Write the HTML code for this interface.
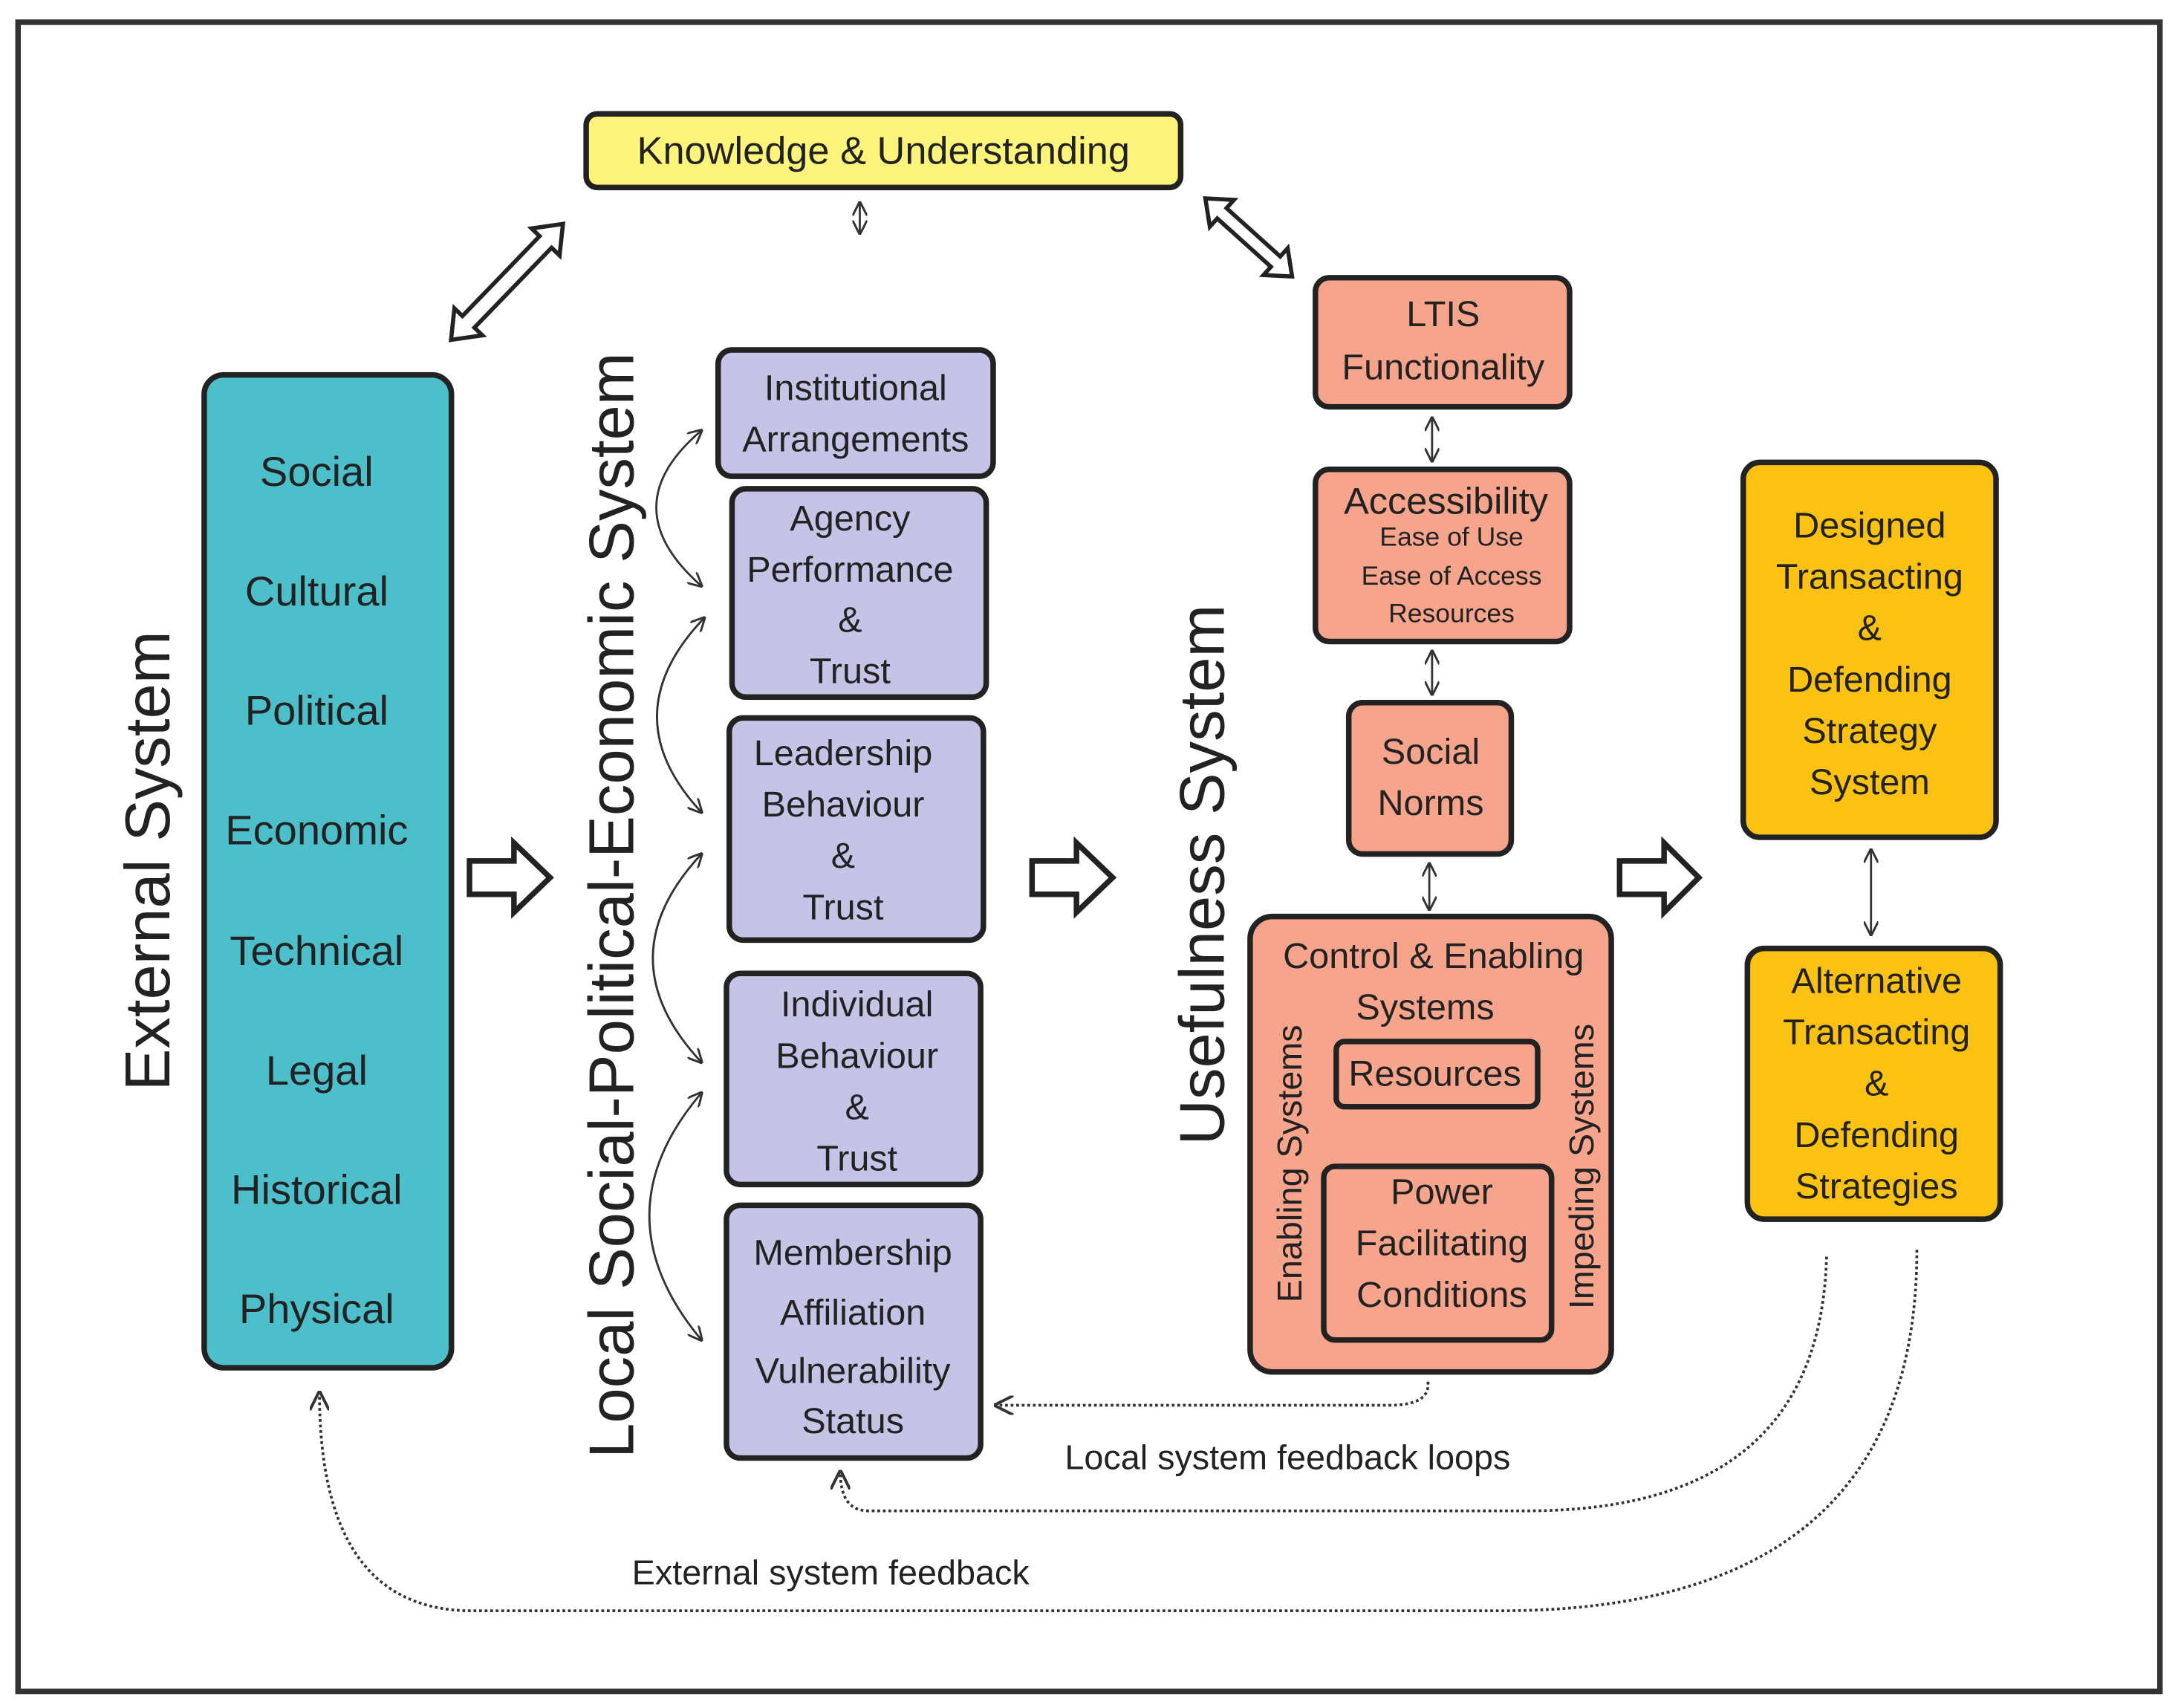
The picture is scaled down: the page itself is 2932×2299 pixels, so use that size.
<!DOCTYPE html>
<html><head><meta charset="utf-8"><style>
html,body{margin:0;padding:0;background:#fff;}
svg{display:block;}
text{font-family:"Comic Sans MS","Liberation Sans",sans-serif;fill:#222;text-anchor:middle;}
</style></head><body>
<svg width="2932" height="2299" viewBox="0 0 1568 1230" preserveAspectRatio="none" xmlns="http://www.w3.org/2000/svg">
<defs>
<marker id="ah" viewBox="0 0 10 10" refX="9" refY="5" markerWidth="7" markerHeight="7" orient="auto-start-reverse"><path d="M0,0 L10,5 L0,10" fill="none" stroke="#333" stroke-width="1.5"/></marker>
</defs>
<rect x="13" y="16" width="1542" height="1202" fill="#fff" stroke="#333" stroke-width="4"/>

<rect x="422" y="82" width="428" height="53" rx="8" fill="#fdf47c" stroke="#222" stroke-width="4"/>
<text x="636" y="118" font-size="28">Knowledge &amp; Understanding</text>
<line x1="619" y1="146" x2="619" y2="168" stroke="#333" stroke-width="1.5" marker-start="url(#ah)" marker-end="url(#ah)"/>

<g transform="translate(365,203) rotate(-46)" fill="#fff" stroke="#222" stroke-width="3">
<path d="M-58,0 L-40,-14 L-40,-6 L40,-6 L40,-14 L58,0 L40,14 L40,6 L-40,6 L-40,14 Z"/>
</g>
<g transform="translate(899,171) rotate(42)" fill="#fff" stroke="#222" stroke-width="3">
<path d="M-42,0 L-26,-13 L-26,-5 L26,-5 L26,-13 L42,0 L26,13 L26,5 L-26,5 L-26,13 Z"/>
</g>

<rect x="147" y="270" width="178" height="715" rx="14" fill="#4cbfcb" stroke="#222" stroke-width="4"/>
<g font-size="30">
<text x="228" y="350">Social</text><text x="228" y="436">Cultural</text><text x="228" y="522">Political</text><text x="228" y="608">Economic</text><text x="228" y="695">Technical</text><text x="228" y="781">Legal</text><text x="228" y="867">Historical</text><text x="228" y="953">Physical</text>
</g>
<text transform="translate(122,620) rotate(-90)" font-size="45.5">External System</text>

<path d="M338,620 L370,620 L370,607 L396,632 L370,657 L370,644 L338,644 Z" fill="#fff" stroke="#222" stroke-width="4"/>
<path d="M743,620 L775,620 L775,607 L801,632 L775,657 L775,644 L743,644 Z" fill="#fff" stroke="#222" stroke-width="4"/>
<path d="M1166,620 L1198,620 L1198,607 L1223,632 L1198,657 L1198,644 L1166,644 Z" fill="#fff" stroke="#222" stroke-width="4"/>

<text transform="translate(456,652) rotate(-90)" font-size="45.5">Local Social-Political-Economic System</text>

<g fill="#c6c4e6" stroke="#222" stroke-width="4">
<rect x="517" y="252" width="198" height="91" rx="10"/>
<rect x="527" y="352" width="183" height="150" rx="10"/>
<rect x="525" y="517" width="183" height="160" rx="10"/>
<rect x="523" y="701" width="183" height="152" rx="10"/>
<rect x="523" y="868" width="183" height="182" rx="10"/>
</g>
<g font-size="26">
<text x="616" y="288">Institutional</text><text x="616" y="325">Arrangements</text>
<text x="612" y="382">Agency</text><text x="612" y="419">Performance</text><text x="612" y="455">&amp;</text><text x="612" y="492">Trust</text>
<text x="607" y="551">Leadership</text><text x="607" y="588">Behaviour</text><text x="607" y="625">&amp;</text><text x="607" y="662">Trust</text>
<text x="617" y="732">Individual</text><text x="617" y="769">Behaviour</text><text x="617" y="806">&amp;</text><text x="617" y="843">Trust</text>
<text x="614" y="911">Membership</text><text x="614" y="954">Affiliation</text><text x="614" y="996">Vulnerability</text><text x="614" y="1032">Status</text>
</g>
<g fill="none" stroke="#333" stroke-width="1.5" marker-start="url(#ah)" marker-end="url(#ah)">
<path d="M505,310 Q440,365 505,422"/>
<path d="M507,445 Q440,515 505,585"/>
<path d="M505,615 Q435,690 505,765"/>
<path d="M505,787 Q430,875 505,965"/>
</g>

<text transform="translate(881,630) rotate(-90)" font-size="45.5">Usefulness System</text>

<g fill="#f6a58c" stroke="#222" stroke-width="4">
<rect x="947" y="200" width="183" height="93" rx="10"/>
<rect x="947" y="338" width="183" height="124" rx="10"/>
<rect x="971" y="506" width="117" height="109" rx="10"/>
<rect x="900" y="660" width="260" height="328" rx="16"/>
<rect x="962" y="750" width="145" height="47" rx="6"/>
<rect x="953" y="840" width="164" height="125" rx="8"/>
</g>
<g font-size="26">
<text x="1039" y="235">LTIS</text><text x="1039" y="273">Functionality</text>
<text x="1041" y="370" font-size="27">Accessibility</text>
<text x="1045" y="393" font-size="19">Ease of Use</text><text x="1045" y="421" font-size="19">Ease of Access</text><text x="1045" y="448" font-size="19">Resources</text>
<text x="1030" y="550">Social</text><text x="1030" y="587">Norms</text>
<text x="1032" y="697">Control &amp; Enabling</text><text x="1026" y="734">Systems</text>
<text x="1033" y="782">Resources</text>
<text x="1038" y="867">Power</text><text x="1038" y="904">Facilitating</text><text x="1038" y="941">Conditions</text>
<text transform="translate(937,838) rotate(-90)" font-size="25">Enabling Systems</text>
<text transform="translate(1147,840) rotate(-90)" font-size="25">Impeding Systems</text>
</g>
<g stroke="#333" stroke-width="1.5" marker-start="url(#ah)" marker-end="url(#ah)">
<line x1="1031" y1="301" x2="1031" y2="332"/>
<line x1="1031" y1="469" x2="1031" y2="500"/>
<line x1="1029" y1="622" x2="1029" y2="655"/>
<line x1="1347" y1="612" x2="1347" y2="673"/>
</g>

<g fill="#fbc213" stroke="#222" stroke-width="4">
<rect x="1255" y="333" width="182" height="270" rx="12"/>
<rect x="1258" y="683" width="182" height="195" rx="12"/>
</g>
<g font-size="26">
<text x="1346" y="387">Designed</text><text x="1346" y="424">Transacting</text><text x="1346" y="461">&amp;</text><text x="1346" y="498">Defending</text><text x="1346" y="535">Strategy</text><text x="1346" y="572">System</text>
<text x="1351" y="715">Alternative</text><text x="1351" y="752">Transacting</text><text x="1351" y="789">&amp;</text><text x="1351" y="826">Defending</text><text x="1351" y="863">Strategies</text>
</g>

<g fill="none" stroke="#333" stroke-width="2" stroke-dasharray="2,2">
<path d="M1028,995 Q1030,1012 1000,1012 L717,1012" marker-end="url(#ah)"/>
<path d="M1315,905 Q1310,1088 1100,1088 L625,1088 Q605,1088 605,1060" marker-end="url(#ah)"/>
<path d="M1380,900 Q1380,1160 1080,1160 L340,1160 Q230,1160 230,1003" marker-end="url(#ah)"/>
</g>
<text x="927" y="1058" font-size="25">Local system feedback loops</text>
<text x="598" y="1141" font-size="25">External system feedback</text>
</svg>
</body></html>
